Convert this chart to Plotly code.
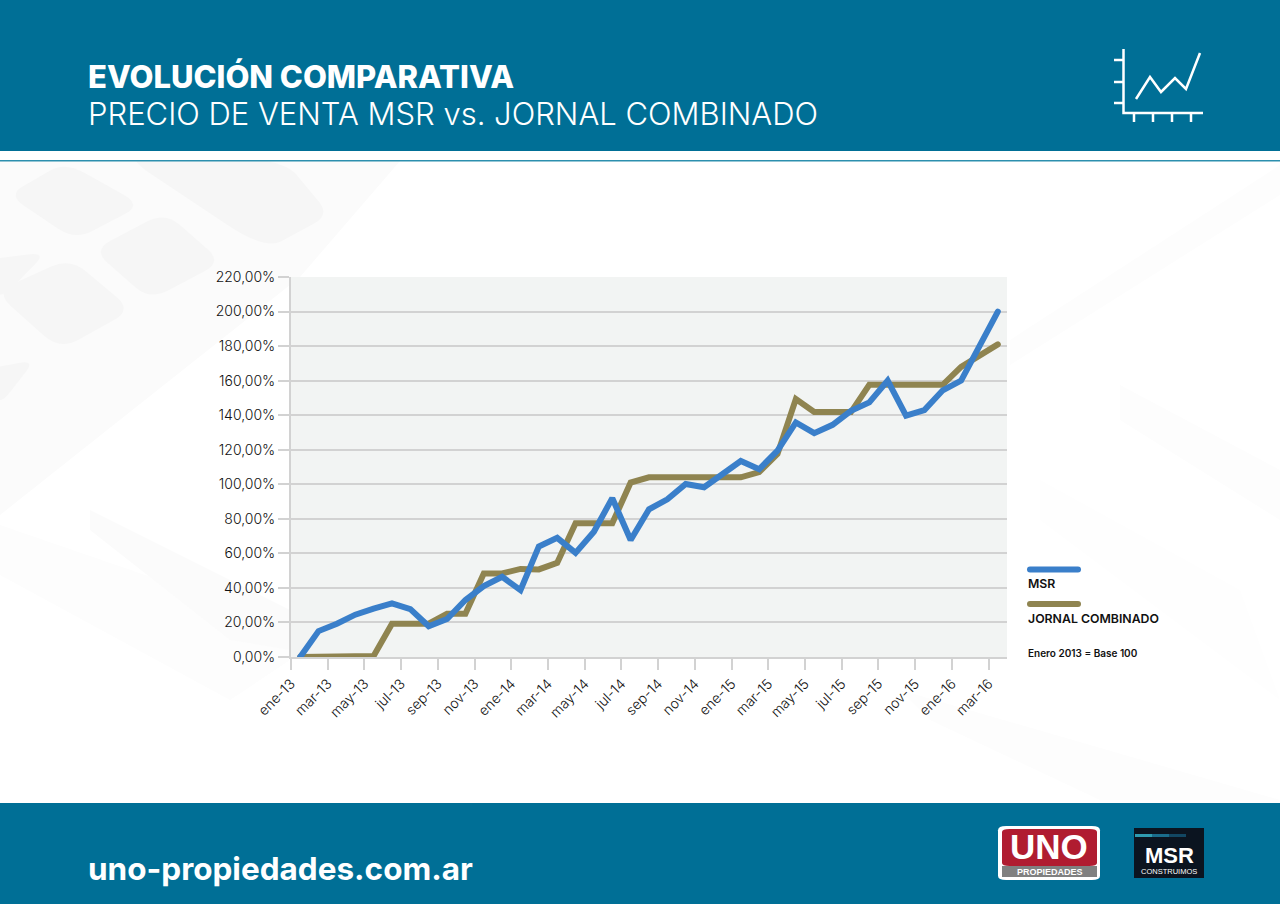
import plotly.graph_objects as go

W, H = 1280, 904

meses = ['ene', 'feb', 'mar', 'abr', 'may', 'jun', 'jul', 'ago', 'sep', 'oct', 'nov', 'dic']
periodos = [f"{meses[i % 12]}-{13 + i // 12}" for i in range(39)]

msr = [0, 15, 19.3, 24.5, 28, 31, 27.7, 17.8, 22, 33, 41, 46.4, 38.7, 64, 69, 60.3, 72.5, 92, 67.7, 85.5,
       91.3, 100.2, 98.3, 106.4, 113.5, 108.7, 119.5, 135.8, 129.6, 134.4, 142.5, 147.4, 160, 139.7, 143,
       154.4, 160, 180, 200]
jornal = [0, 0.1, 0.3, 0.5, 0.6, 19.3, 19.3, 19.3, 25, 25, 48.4, 48.4, 51, 50.7, 54.5, 77.4, 77.4, 77.4,
          101, 104, 104, 104, 104, 104, 104, 107, 117.6, 149.3, 141.8, 141.8, 141.8, 157.6, 157.6, 157.6,
          157.6, 157.6, 168, 174.5, 181]

AZUL = '#3a7fca'
OLIVA = '#8f8450'
TEAL = '#006f96'
GRIS = '#d2d2d2'
FUENTE = 'Inter'


def px(x):
    return x / W


def py(y):
    return 1 - y / H


def rect(x0, y0, x1, y1, color, layer='below'):
    return dict(type='rect', xref='paper', yref='paper', x0=px(x0), x1=px(x1), y0=py(y0), y1=py(y1),
                fillcolor=color, line_width=0, layer=layer)


def linea(puntos, color='white', ancho=2.5):
    path = 'M' + 'L'.join(f"{px(x)},{py(y)}" for x, y in puntos)
    return dict(type='path', xref='paper', yref='paper', path=path, line=dict(color=color, width=ancho),
                layer='above')


def mancha(puntos, color):
    path = 'M' + 'L'.join(f"{px(x)},{py(y)}" for x, y in puntos) + 'Z'
    return dict(type='path', xref='paper', yref='paper', path=path, fillcolor=color, line_width=0, layer='below')


def tecla(puntos, color='#f6f6f6', t=0.25, layer='below'):
    # poligono con esquinas redondeadas
    n = len(puntos)
    path = ''
    for i in range(n):
        x0, y0 = puntos[i - 1]
        x1, y1 = puntos[i]
        x2, y2 = puntos[(i + 1) % n]
        a = (x1 + (x0 - x1) * t, y1 + (y0 - y1) * t)
        b = (x1 + (x2 - x1) * t, y1 + (y2 - y1) * t)
        path += ('M' if i == 0 else 'L') + f"{px(a[0])},{py(a[1])}"
        path += f"Q{px(x1)},{py(y1)} {px(b[0])},{py(b[1])}"
    return dict(type='path', xref='paper', yref='paper', path=path + 'Z', fillcolor=color, line_width=0, layer=layer)


def pastilla(x0, y0, x1, y1, color):
    r = (y1 - y0) / 2
    ym = y0 + r
    path = (f"M{px(x0 + r)},{py(y0)}L{px(x1 - r)},{py(y0)}Q{px(x1)},{py(y0)} {px(x1)},{py(ym)}"
            f"Q{px(x1)},{py(y1)} {px(x1 - r)},{py(y1)}L{px(x0 + r)},{py(y1)}"
            f"Q{px(x0)},{py(y1)} {px(x0)},{py(ym)}Q{px(x0)},{py(y0)} {px(x0 + r)},{py(y0)}Z")
    return dict(type='path', xref='paper', yref='paper', path=path, fillcolor=color, line_width=0, layer='above')


def texto(x, y, s, size, color='white', weight=400, anchor='left', family=FUENTE):
    return dict(xref='paper', yref='paper', x=px(x), y=py(y), text=s, showarrow=False, xanchor=anchor,
                yanchor='middle', font=dict(family=family, size=size, color=color, weight=weight))


fig = go.Figure()
fig.add_trace(go.Scatter(x=list(range(39)), y=jornal, mode='lines', name='JORNAL COMBINADO',
                         line=dict(color=OLIVA, width=6)))
fig.add_trace(go.Scatter(x=list(range(39)), y=msr, mode='lines', name='MSR',
                         line=dict(color=AZUL, width=6)))

shapes = [
    # fondo tenue (calculadora y papeles)
    mancha([(0, 161), (400, 161), (300, 277), (0, 515)], '#fbfbfb'),
    mancha([(0, 525), (290, 625), (290, 660), (230, 700), (0, 575)], '#fdfdfd'),
    mancha([(90, 510), (290, 610), (290, 650), (230, 640), (90, 530)], '#fbfbfb'),
    mancha([(1010, 340), (1280, 165), (1280, 195), (1010, 365)], '#fdfdfd'),
    mancha([(1120, 385), (1280, 470), (1280, 520), (1120, 420)], '#fdfdfd'),
    mancha([(1040, 480), (1240, 590), (1280, 700), (1040, 520)], '#fefefe'),
    mancha([(900, 690), (1280, 800), (1100, 800), (930, 720)], '#fdfdfd'),
    tecla([(65, 162), (142, 205), (75, 240), (8, 195)]),
    tecla([(165, 212), (222, 262), (150, 300), (93, 250)]),
    tecla([(70, 258), (132, 310), (60, 350), (-5, 292)]),
    tecla([(115, 150), (285, 161), (330, 215), (265, 250)]),
    tecla([(-30, 262), (47, 252), (0, 300)]),
    tecla([(-30, 372), (35, 360), (0, 405)]),
    rect(0, 0, W, 151, TEAL),
    rect(0, 151, W, 160, 'white'),
    rect(0, 160, W, 161.5, '#2c8fae'),
    rect(0, 803, W, H, TEAL),
    rect(291, 277, 1007, 657, '#f2f4f3'),
]

# icono
shapes.append(linea([(1123.5, 49), (1123.5, 113), (1203, 113)]))
for y in (60, 82, 103):
    shapes.append(linea([(1114, y), (1123.5, y)]))
for x in (1134, 1153, 1172, 1191):
    shapes.append(linea([(x, 113), (x, 122)]))
shapes.append(linea([(1136, 99), (1150, 77), (1161, 92), (1175, 78), (1186, 89), (1200, 53)]))

# leyenda
shapes.append(pastilla(1027, 566.5, 1081, 572.5, AZUL))
shapes.append(pastilla(1027, 601, 1081, 607, OLIVA))

# logos
shapes.append(tecla([(998, 826), (1100, 826), (1100, 880), (998, 880)], 'white', 0.08, 'above'))
shapes.append(tecla([(1002, 829), (1097, 829), (1097, 866), (1002, 866)], '#b01c30', 0.08, 'above'))
shapes.append(rect(1002, 866, 1097, 877, '#808080', 'above'))
shapes.append(rect(1134, 828, 1204, 878, '#0b1420', 'above'))
shapes.append(rect(1135, 834, 1152, 837, '#2f9bb0', 'above'))
shapes.append(rect(1152, 834, 1169, 837, '#1a6d8c', 'above'))
shapes.append(rect(1169, 834, 1186, 837, '#124763', 'above'))

annotations = [
    texto(86, 76, 'EVOLUCIÓN COMPARATIVA', 31, weight=800),
    texto(86, 113, 'PRECIO DE VENTA MSR vs. JORNAL COMBINADO', 31, weight=300),
    texto(86, 868, 'uno-propiedades.com.ar', 31.5, weight=700),
    texto(1026, 583, 'MSR', 12.3, color='#111111', weight=600),
    texto(1026, 618, 'JORNAL COMBINADO', 12.3, color='#111111', weight=600),
    texto(1026, 653, 'Enero 2013 = Base 100', 10, color='#111111', weight=600),
    texto(1049, 846, 'UNO', 35, weight=900, anchor='center', family='Liberation Sans'),
    texto(1049.5, 872, 'PROPIEDADES', 9, weight=700, anchor='center', family='Liberation Sans'),
    texto(1169, 855, 'MSR', 22, weight=900, anchor='center', family='Liberation Sans'),
    texto(1169, 871.5, 'CONSTRUIMOS', 7.5, weight=400, anchor='center', family='Liberation Sans'),
]

fig.update_layout(
    width=W, height=H, margin=dict(l=0, r=0, t=0, b=0, autoexpand=False), showlegend=False,
    paper_bgcolor='white', plot_bgcolor='rgba(0,0,0,0)', separators=',.',
    font=dict(family=FUENTE, size=14, color='#111111', weight=300),
    shapes=shapes, annotations=annotations,
)
fig.update_xaxes(
    domain=[px(291), px(1007)], range=[-0.5, 38.5], showgrid=False, zeroline=False, automargin=False,
    tickmode='array', tickvals=[i - 0.5 for i in range(0, 39, 2)], ticktext=periodos[::2],
    tickangle=-45, ticks='outside', ticklen=11, tickwidth=2, tickcolor=GRIS,
    showline=True, linecolor=GRIS, linewidth=2,
)
fig.update_yaxes(
    domain=[py(657), py(277)], range=[0, 220], dtick=20, tick0=0, tickformat='.2f', ticksuffix='%',
    showgrid=True, gridcolor=GRIS, gridwidth=2, zeroline=False, automargin=False,
    ticks='outside', ticklen=11, tickwidth=2, tickcolor=GRIS,
    showline=True, linecolor=GRIS, linewidth=2,
)

fig.write_html("out.html", config={'displayModeBar': False},
               post_script="document.body.style.margin='0';"
                           "document.querySelectorAll('.js-line').forEach(function(l){l.style.strokeLinecap='round';});")
